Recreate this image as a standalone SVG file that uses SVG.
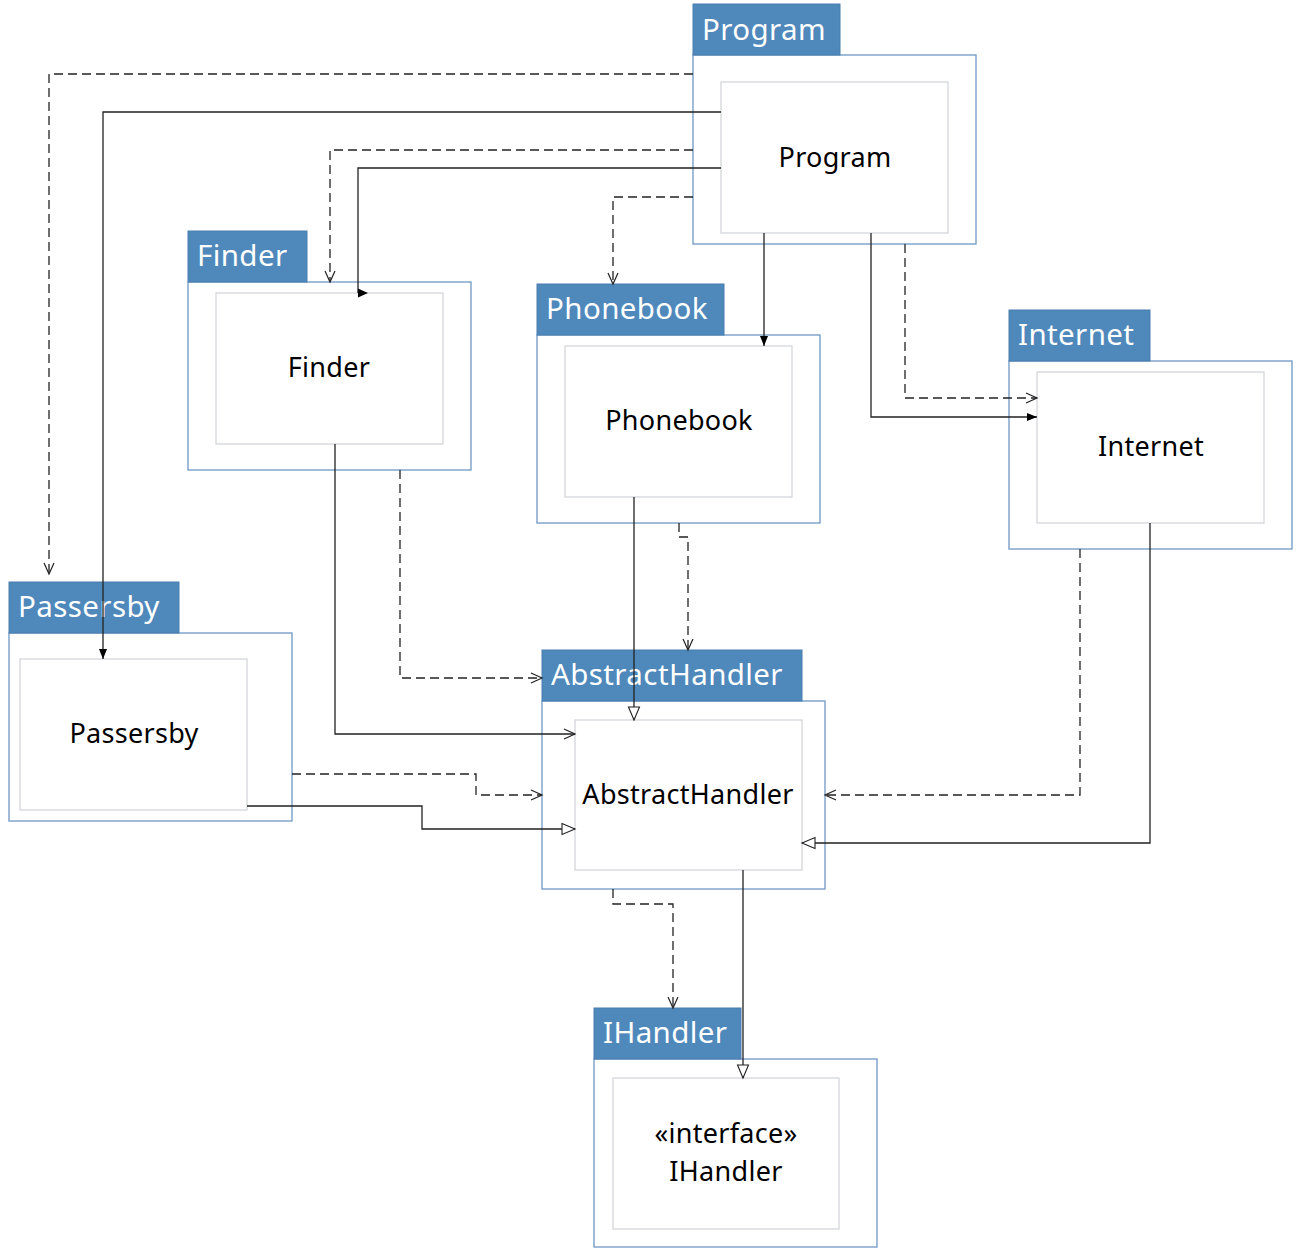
<svg xmlns="http://www.w3.org/2000/svg" width="1298" height="1256" viewBox="0 0 1298 1256">
  <style>
    .tab { fill: #4f88bb; stroke: #4a7fb0; stroke-width: 1; }
    .outer { fill: #ffffff; stroke: #6f98c4; stroke-width: 1.3; }
    .inner { fill: #ffffff; stroke: #d3d6da; stroke-width: 1.3; }
    .hdr { font-family: "Noto Sans", "Open Sans", sans-serif; font-size: 29.5px; letter-spacing: 0.4px; fill: #ffffff; }
    .lbl { font-family: "Noto Sans", "Open Sans", sans-serif; font-size: 27px; letter-spacing: 0.3px; fill: #000000; text-anchor: middle; }
    .solid { fill: none; stroke: #222222; stroke-width: 1.3; }
    .dash { fill: none; stroke: #222222; stroke-width: 1.3; stroke-dasharray: 9 5; }
  </style>
  <defs>
    <marker id="open" markerUnits="userSpaceOnUse" markerWidth="14" markerHeight="12" refX="12" refY="6" orient="auto">
      <path d="M1,1 L12,6 L1,11" fill="none" stroke="#222222" stroke-width="1.2"/>
    </marker>
    <marker id="filled" markerUnits="userSpaceOnUse" markerWidth="12" markerHeight="10" refX="10" refY="5" orient="auto">
      <path d="M0,1 L10,5 L0,9 Z" fill="#000000"/>
    </marker>
    <marker id="hollow" markerUnits="userSpaceOnUse" markerWidth="16" markerHeight="14" refX="14" refY="7" orient="auto">
      <path d="M1,1.5 L14,7 L1,12.5 Z" fill="#ffffff" stroke="#222222" stroke-width="1.1"/>
    </marker>
  </defs>

  <!-- nodes -->
  <g id="program">
    <rect class="outer" x="693" y="55" width="283" height="189"/>
    <rect class="tab" x="693" y="4" width="147" height="51"/>
    <text class="hdr" x="702" y="40">Program</text>
    <rect class="inner" x="721" y="82" width="227" height="151"/>
    <text class="lbl" x="835" y="167">Program</text>
  </g>

  <g id="finder">
    <rect class="outer" x="188" y="282" width="283" height="188"/>
    <rect class="tab" x="188" y="231" width="119" height="51"/>
    <text class="hdr" x="197" y="266">Finder</text>
    <rect class="inner" x="216" y="293" width="227" height="151"/>
    <text class="lbl" x="329" y="377">Finder</text>
  </g>

  <g id="phonebook">
    <rect class="outer" x="537" y="335" width="283" height="188"/>
    <rect class="tab" x="537" y="284" width="187" height="51"/>
    <text class="hdr" x="546" y="319">Phonebook</text>
    <rect class="inner" x="565" y="346" width="227" height="151"/>
    <text class="lbl" x="679" y="430">Phonebook</text>
  </g>

  <g id="internet">
    <rect class="outer" x="1009" y="361" width="283" height="188"/>
    <rect class="tab" x="1009" y="310" width="141" height="51"/>
    <text class="hdr" x="1018" y="345">Internet</text>
    <rect class="inner" x="1037" y="372" width="227" height="151"/>
    <text class="lbl" x="1151" y="456">Internet</text>
  </g>

  <g id="passersby">
    <rect class="outer" x="9" y="633" width="283" height="188"/>
    <rect class="tab" x="9" y="582" width="170" height="51"/>
    <text class="hdr" x="18" y="617">Passersby</text>
    <rect class="inner" x="20" y="659" width="227" height="151"/>
    <text class="lbl" x="134" y="743">Passersby</text>
  </g>

  <g id="abstracthandler">
    <rect class="outer" x="542" y="701" width="283" height="188"/>
    <rect class="tab" x="542" y="650" width="260" height="51"/>
    <text class="hdr" x="551" y="685">AbstractHandler</text>
    <rect class="inner" x="575" y="720" width="227" height="150"/>
    <text class="lbl" x="688" y="804">AbstractHandler</text>
  </g>

  <g id="ihandler">
    <rect class="outer" x="594" y="1059" width="283" height="188"/>
    <rect class="tab" x="594" y="1008" width="147" height="51"/>
    <text class="hdr" x="603" y="1043">IHandler</text>
    <rect class="inner" x="613" y="1078" width="226" height="151"/>
    <text class="lbl" x="726" y="1143">«interface»</text>
    <text class="lbl" x="726" y="1181">IHandler</text>
  </g>

  <!-- connectors -->
  <g id="connectors">
    <!-- from Program -->
    <path class="dash" d="M693,74 H49 V574" marker-end="url(#open)"/>
    <path class="solid" d="M721,112 H103 V659" marker-end="url(#filled)"/>
    <path class="dash" d="M693,150 H330 V282" marker-end="url(#open)"/>
    <path class="solid" d="M721,168 H358 V293"/>
    <path d="M358,288.5 L368,293 L358,297.5 Z" fill="#000000"/>
    <path class="dash" d="M693,197 H613 V284" marker-end="url(#open)"/>
    <path class="solid" d="M764,233 V346" marker-end="url(#filled)"/>
    <path class="solid" d="M871,233 V417 H1037" marker-end="url(#filled)"/>
    <path class="dash" d="M905,244 V398 H1037" marker-end="url(#open)"/>

    <!-- from Finder -->
    <path class="solid" d="M335,444 V734 H575" marker-end="url(#open)"/>
    <path class="dash" d="M400,470 V678 H542" marker-end="url(#open)"/>

    <!-- from Phonebook -->
    <path class="solid" d="M634,497 V720" marker-end="url(#hollow)"/>
    <path class="dash" d="M679,523 V537 H688 V650" marker-end="url(#open)"/>

    <!-- from Passersby -->
    <path class="dash" d="M292,774 H476 V795 H542" marker-end="url(#open)"/>
    <path class="solid" d="M247,806 H422 V829 H575" marker-end="url(#hollow)"/>

    <!-- from Internet -->
    <path class="dash" d="M1080,549 V795 H825" marker-end="url(#open)"/>
    <path class="solid" d="M1150,523 V843 H802" marker-end="url(#hollow)"/>

    <!-- from AbstractHandler -->
    <path class="dash" d="M613,889 V904 H673 V1008" marker-end="url(#open)"/>
    <path class="solid" d="M743,870 V1078" marker-end="url(#hollow)"/>
  </g>
</svg>
